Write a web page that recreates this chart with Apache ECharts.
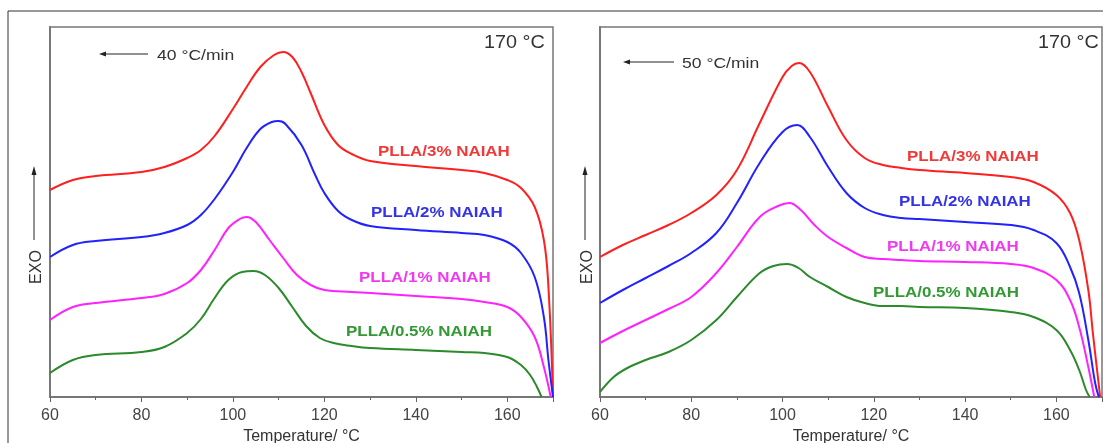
<!DOCTYPE html>
<html><head><meta charset="utf-8">
<script src="https://cdn.jsdelivr.net/npm/echarts@6/dist/echarts.min.js"></script>
<style>html,body{margin:0;padding:0;background:#fff}#c{width:1103px;height:443px}</style>
</head><body><div id="c"></div>
<script>
// ---- data (temperature °C, EXO heat flow in arbitrary units) ----
const seriesNames = ['PLLA/3% NAIAH', 'PLLA/2% NAIAH', 'PLLA/1% NAIAH', 'PLLA/0.5% NAIAH'];
const rateLabels = ['40 °C/min', '50 °C/min'];
const isoLabel = '170 °C';
const xName = 'Temperature/ °C';
const yName = 'EXO';

// 40 °C/min panel
const red40 = [[60,207],[65,217],[70,221],[80,225],[85,230],[90,239],[93,247],[96,261],[100,288],[103,310],[106,330],[109,342],[111,345],[113,340],[115,325],[117,304],[120,272],[123,252],[126,243],[130,236],[140,231],[150,227],[155,224],[160,217],[163,209],[166,190],[168,157],[169,110],[170,0]];
const blue40 = [[60,140],[65,152],[70,156],[80,160],[85,164],[90,172],[93,182],[96,198],[100,225],[103,249],[106,268],[108.5,275],[110,276],[111.5,273],[115,252],[118,222],[120,204],[123,186],[126,177],[130,171],[140,167],[150,164],[155,162],[160,155],[163,144],[166,120],[168,80],[169,37],[170,0]];
const mag40 = [[60,77],[65,90],[70,94],[80,99],[85,103],[90,114],[93,127],[96,147],[99,169],[101.5,178],[103,180],[105,175],[108,157],[111,139],[114,122],[117,112],[120,107],[126,105],[130,104],[140,101],[150,98],[155,95],[160,90],[163,80],[166,60],[168,30],[169.5,0]];
const green40 = [[60,24],[65,37],[70,42],[80,45],[85,50],[90,64],[93,78],[96,99],[99,117],[102,125],[104.5,126],[107,122],[110,109],[113,90],[116,71],[119,59],[122,54],[126,51],[130,49],[140,47],[150,45],[155,44],[160,40],[163,32],[165,22],[166.5,10],[167.5,0]];

// 50 °C/min panel
const red50 = [[60,140],[65,152],[70,162],[75,172],[80,184],[85.5,202],[90,227],[95,274],[100,320],[102,331],[103.6,334],[106,325],[110,290],[114,257],[118,239],[122,232],[126,229],[130,227],[140,224],[150,220],[155,215],[160,202],[163,184],[165,157],[167,107],[168,64],[169.6,0]];
const blue50 = [[60,94],[65,107],[70,119],[75,131],[80,144],[85.5,164],[90,194],[95,234],[100,265],[103.2,272],[106,260],[110,230],[114,204],[118,189],[122,182],[126,179],[130,178],[140,175],[150,172],[155,167],[160,154],[163,130],[165,104],[167,57],[168.5,14],[169.3,0]];
const mag50 = [[60,54],[65,66],[70,77],[75,88],[80,100],[85.5,124],[90,150],[95,180],[99,191],[101.5,194],[104,187],[107,172],[110,160],[114,149],[118,140],[122,138],[126,137],[130,136],[140,135],[150,133],[155,129],[160,117],[163,97],[165,70],[167,30],[168.3,0]];
const green50 = [[60,5],[63,20],[66,29],[70,37],[75,45],[80,57],[85.5,77],[90,100],[95,124],[98,131],[101,133],[103.5,129],[106,120],[110,110],[114,100],[118,94],[122,91],[126,91],[130,90],[140,89],[150,85],[155,80],[160,67],[163,47],[165,27],[166.5,7],[167.3,0]];

// ---- layout / style ----
const colors = ['#ff1f1f', '#2222ff', '#ff22ff', '#2b8a2b'];
const labelColors = ['#f03a3a', '#3434e6', '#f03af0', '#339933'];
const FONT = 'Liberation Sans, Arial, sans-serif';
const panels = [
  { left: 50, width: 503, data: [red40, blue40, mag40, green40], rate: rateLabels[0],
    exoX: 34, rateArrow: [148, 99, 54], rateText: [157, 56], iso: [484, 43],
    labels: [[378,152],[371,213],[359,278],[346,332]] },
  { left: 600, width: 502, data: [red50, blue50, mag50, green50], rate: rateLabels[1],
    exoX: 585, rateArrow: [674, 623, 62], rateText: [682, 64], iso: [1038, 43],
    labels: [[907,157],[899,202],[887,247],[873,293]] }
];

const grids = [], xAxes = [], yAxes = [], series = [], graphics = [];
graphics.push({ type: 'rect', shape: { x: 8, y: 11, width: 1300, height: 600 },
  style: { fill: 'none', stroke: '#333', lineWidth: 1 }, silent: true });

panels.forEach((p, i) => {
  grids.push({ left: p.left, top: 27, width: p.width, height: 370, show: true,
    outerBoundsMode: 'none', containLabel: false,
    borderColor: '#777', borderWidth: 1.5, backgroundColor: 'transparent' });
  xAxes.push({ type: 'value', gridIndex: i, min: 60, max: 170, interval: 20,
    axisLine: { lineStyle: { color: '#777', width: 2 } },
    axisTick: { show: true, inside: false, length: 5, lineStyle: { color: '#666' } },
    minorTick: { show: true, splitNumber: 2, length: 3, lineStyle: { color: '#666' } },
    splitLine: { show: false },
    axisLabel: { fontSize: 16, color: '#444', fontFamily: FONT, margin: 11, showMaxLabel: false },
    name: xName, nameLocation: 'middle', nameGap: 32,
    nameTextStyle: { fontSize: 16, color: '#333', fontFamily: FONT } });
  yAxes.push({ type: 'value', gridIndex: i, min: 0, max: 370,
    axisLine: { show: true, lineStyle: { color: '#777', width: 2 } }, axisTick: { show: false },
    axisLabel: { show: false }, splitLine: { show: false } });
  p.data.forEach((d, k) => {
    series.push({ type: 'line', name: seriesNames[k] + ' ' + p.rate, xAxisIndex: i, yAxisIndex: i,
      data: d, showSymbol: false, smooth: 0.4,
      lineStyle: { color: colors[k], width: 2 }, itemStyle: { color: colors[k] } });
    graphics.push({ type: 'text', x: p.labels[k][0], y: p.labels[k][1], scaleX: 1.13,
      style: { text: seriesNames[k], fill: labelColors[k], font: 'bold 15px ' + FONT,
        textVerticalAlign: 'middle' } });
  });
  // EXO arrow + label
  graphics.push({ type: 'line', shape: { x1: p.exoX, y1: 240, x2: p.exoX, y2: 172 },
    style: { stroke: '#222', lineWidth: 1 } });
  graphics.push({ type: 'polygon', shape: { points: [[p.exoX - 2.5, 175], [p.exoX + 2.5, 175], [p.exoX, 166]] },
    style: { fill: '#222' } });
  graphics.push({ type: 'text', x: p.exoX + 3, y: 267, rotation: Math.PI / 2,
    style: { text: yName, fill: '#333', font: '16px ' + FONT, textAlign: 'center', textVerticalAlign: 'middle' } });
  // rate arrow + label
  const ra = p.rateArrow;
  graphics.push({ type: 'line', shape: { x1: ra[0], y1: ra[2], x2: ra[1] + 4, y2: ra[2] },
    style: { stroke: '#222', lineWidth: 1 } });
  graphics.push({ type: 'polygon', shape: { points: [[ra[1] + 7, ra[2] - 2.5], [ra[1] + 7, ra[2] + 2.5], [ra[1], ra[2]]] },
    style: { fill: '#222' } });
  graphics.push({ type: 'text', x: p.rateText[0], y: p.rateText[1], scaleX: 1.17,
    style: { text: p.rate, fill: '#333', font: '15px ' + FONT, textVerticalAlign: 'middle' } });
  graphics.push({ type: 'text', x: p.iso[0], y: p.iso[1], scaleX: 1.1,
    style: { text: isoLabel, fill: '#333', font: '18px ' + FONT, textVerticalAlign: 'middle' } });
});

const chart = echarts.init(document.getElementById('c'), null, { renderer: 'canvas' });
chart.setOption({
  animation: false,
  backgroundColor: '#fff',
  grid: grids, xAxis: xAxes, yAxis: yAxes, series: series, graphic: graphics
});
</script></body></html>
